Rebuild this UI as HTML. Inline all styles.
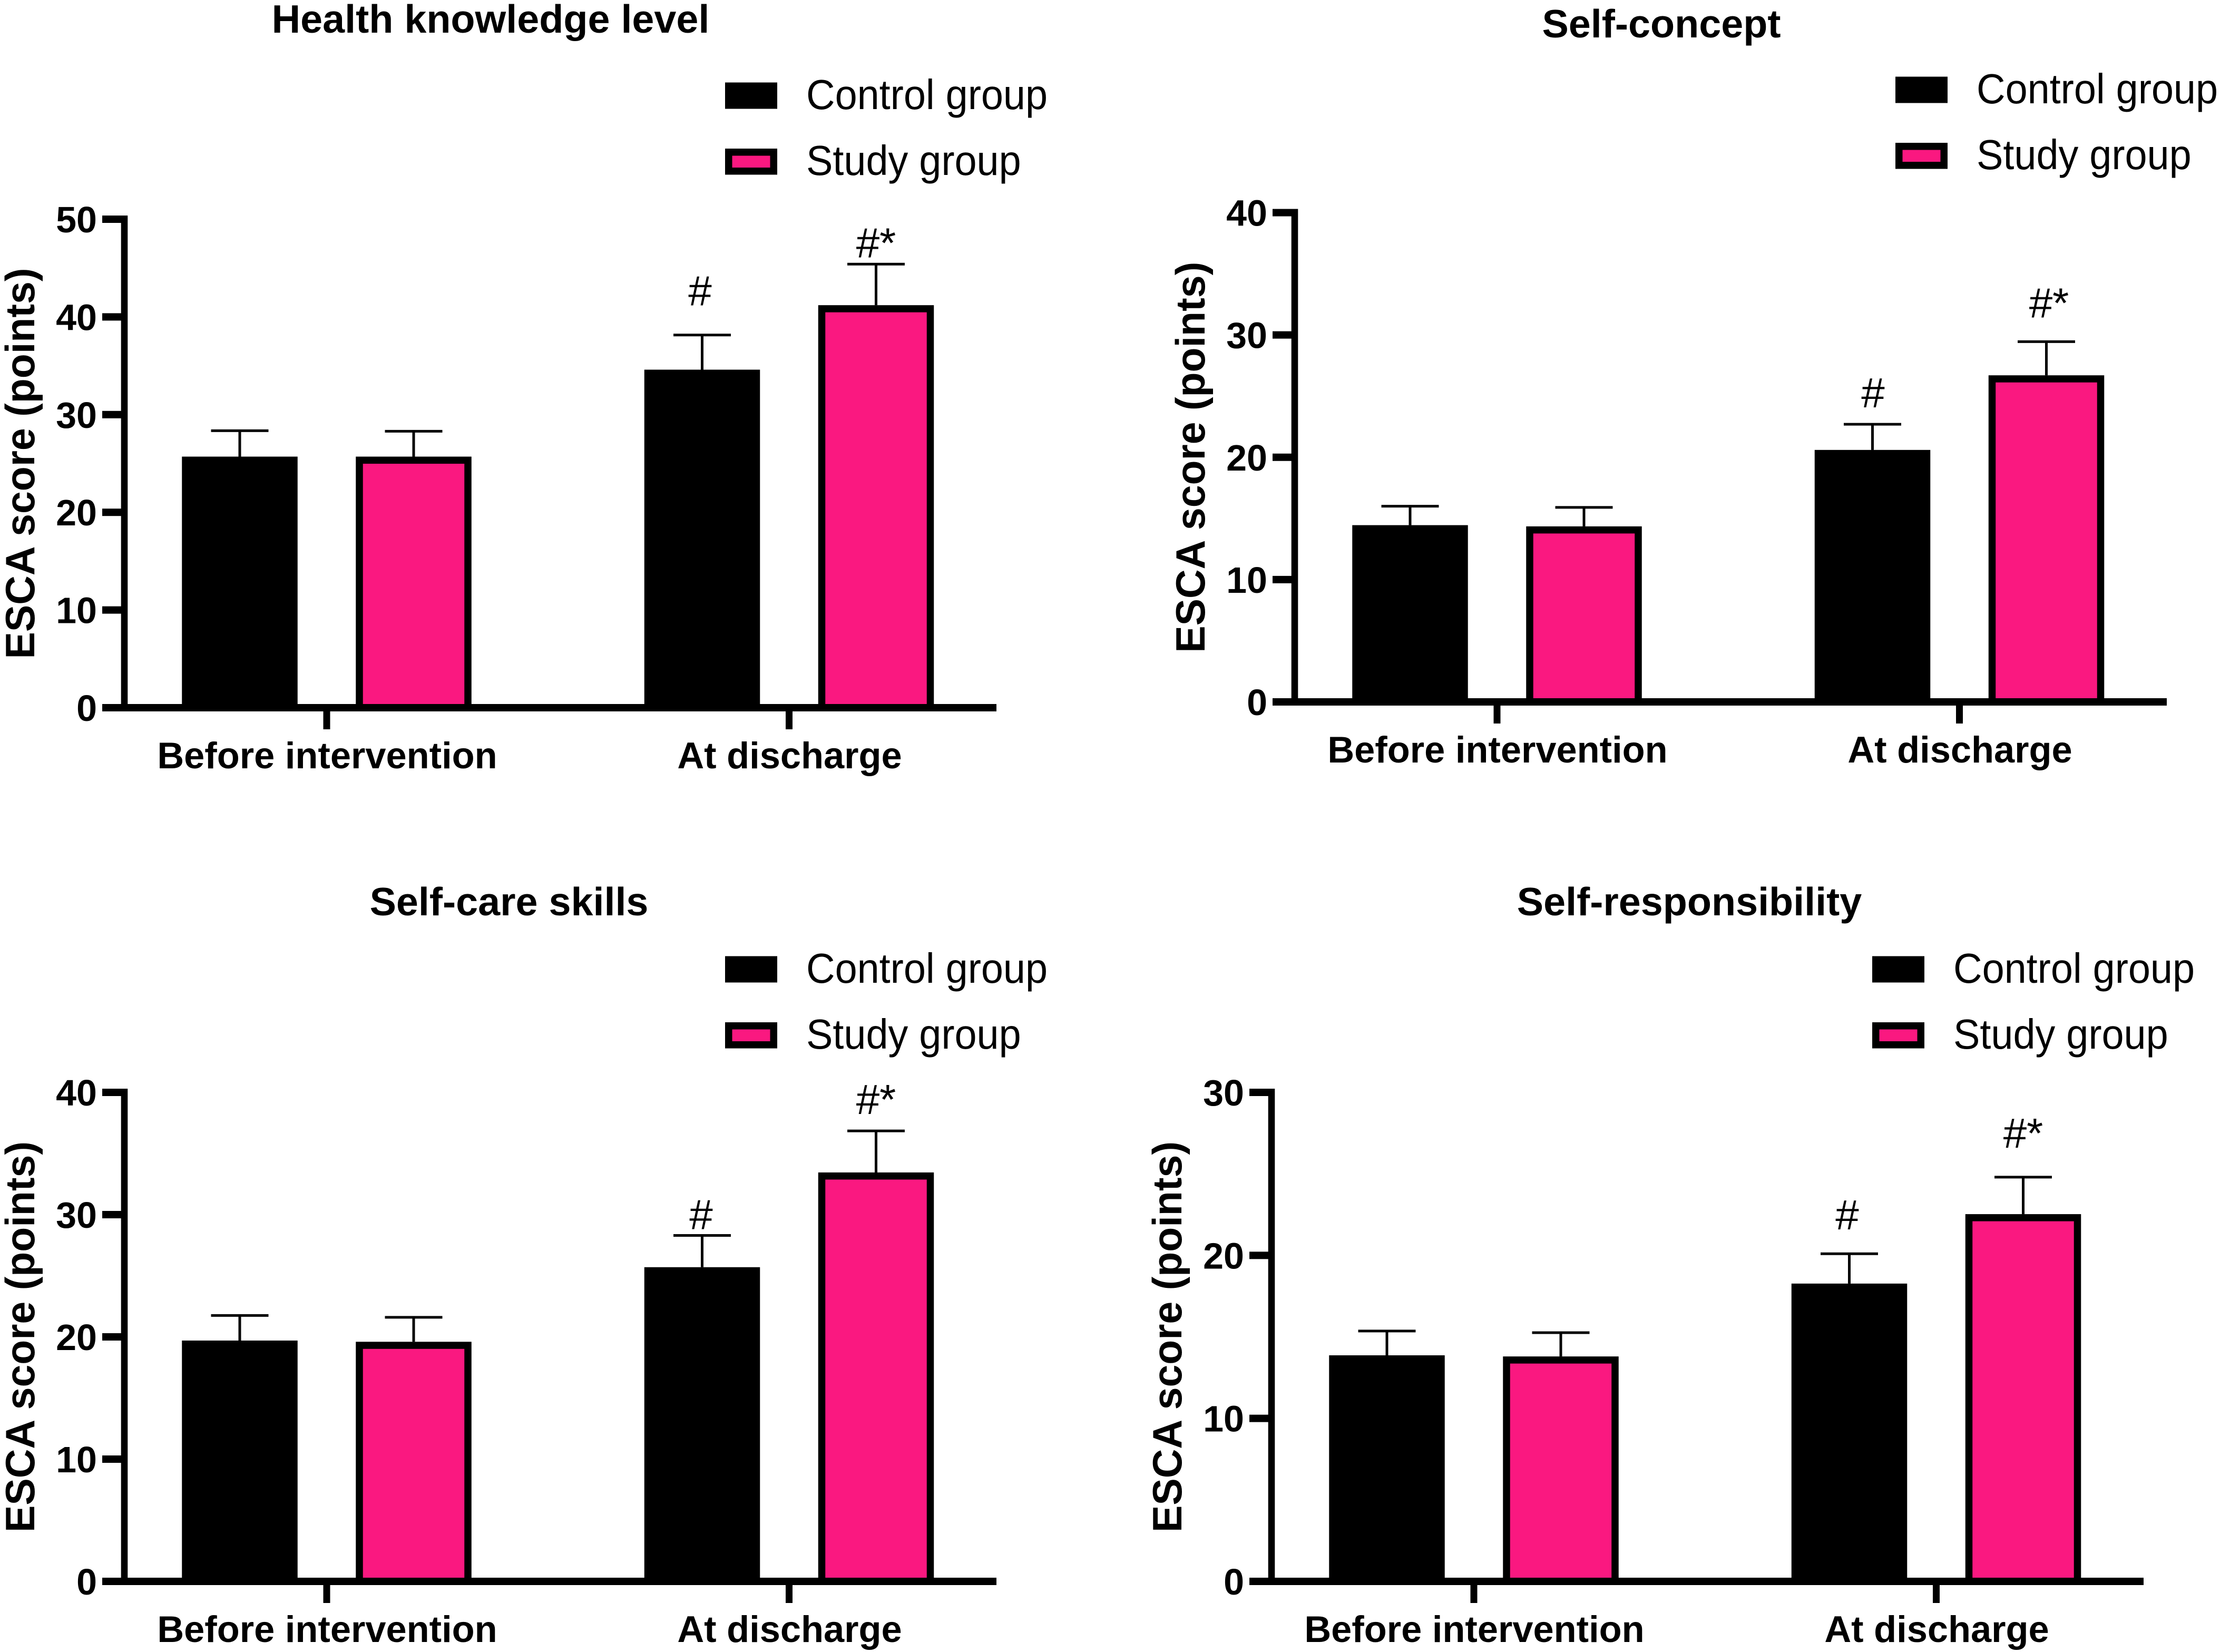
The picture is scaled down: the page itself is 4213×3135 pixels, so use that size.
<!DOCTYPE html>
<html lang="en">
<head>
<meta charset="utf-8">
<title>ESCA score charts</title>
<style>
html,body{margin:0;padding:0;background:#fff;width:4213px;height:3135px;overflow:hidden}
svg{display:block}
text{font-family:"Liberation Sans",sans-serif;fill:#000}
</style>
</head>
<body>
<svg id="figure" xmlns="http://www.w3.org/2000/svg" width="4213" height="3135" viewBox="0 0 4213 3135">
<rect x="0" y="0" width="4213" height="3135" fill="#ffffff"/>
</svg>
<script>
const categories = ["Before intervention", "At discharge"];
const seriesNames = ["Control group", "Study group"];
const yAxisTitle = "ESCA score (points)";
const markers = ["#", "#*"];

const healthTitle = "Health knowledge level";
const healthTicks = [0, 10, 20, 30, 40, 50];
const healthControl = [25.7, 34.6];
const healthStudy = [25.7, 41.2];
const healthControlUpper = [28.35, 38.15];
const healthStudyUpper = [28.3, 45.4];

const conceptTitle = "Self-concept";
const conceptTicks = [0, 10, 20, 30, 40];
const conceptControl = [14.45, 20.6];
const conceptStudy = [14.35, 26.7];
const conceptControlUpper = [16.0, 22.7];
const conceptStudyUpper = [15.9, 29.45];

const careTitle = "Self-care skills";
const careTicks = [0, 10, 20, 30, 40];
const careControl = [19.7, 25.7];
const careStudy = [19.6, 33.45];
const careControlUpper = [21.75, 28.3];
const careStudyUpper = [21.6, 36.85];

const responsibilityTitle = "Self-responsibility";
const responsibilityTicks = [0, 10, 20, 30];
const responsibilityControl = [13.87, 18.27];
const responsibilityStudy = [13.8, 22.53];
const responsibilityControlUpper = [15.36, 20.1];
const responsibilityStudyUpper = [15.26, 24.8];

const PINK = "#fa1880";
const svg = document.getElementById("figure");
const NS = "http://www.w3.org/2000/svg";

function make(tag, attrs, parent) {
  const node = document.createElementNS(NS, tag);
  for (const k in attrs) node.setAttribute(k, attrs[k]);
  parent.appendChild(node);
  return node;
}

function drawPanel(p) {
  const g = make("g", {}, svg);
  
  

  const maxTick = Math.max.apply(null, p.ticks);
  const y = v => p.y0 - (v / maxTick) * (p.y0 - p.yTop);
  const groupX = i => p.axisX + 384 + i * 877.5;
  const barW = 219.5, offset = 165, border = 13.5;

  const title = make("text", {x: p.titleX, y: p.titleY, "text-anchor": "middle", "font-size": 75.5, "font-weight": "bold"}, g);
  title.textContent = p.title;
  
  

  // legend
  const lx = p.axisX + 1140, ly = p.y0 - 1186.5;
  const sw1 = make("rect", {x: lx, y: ly, width: 99, height: 50, fill: "#000"}, g);
  
  
  const lt1 = make("text", {transform: "translate(" + (lx + 154) + "," + (ly + 50.5) + ") scale(1,1.06)", x: 0, y: 0, "font-size": 75.6}, g);
  lt1.textContent = seriesNames[0];
  
  
  const sw2 = make("rect", {x: lx + 6.75, y: ly + 125.5 + 6.75, width: 85.5, height: 36, fill: PINK, stroke: "#000", "stroke-width": 13.5}, g);
  
  
  const lt2 = make("text", {transform: "translate(" + (lx + 154) + "," + (ly + 175.5) + ") scale(1,1.06)", x: 0, y: 0, "font-size": 75.6}, g);
  lt2.textContent = seriesNames[1];
  
  

  // bars and error bars
  categories.forEach((cat, i) => {
    const cx = groupX(i);
    const xc = cx - offset, xs = cx + offset;

    const stemC = make("line", {x1: xc, x2: xc, y1: y(p.control[i]), y2: y(p.controlUpper[i]), stroke: "#000", "stroke-width": 5}, g);
    
    
    const capC = make("line", {x1: xc - 54.5, x2: xc + 54.5, y1: y(p.controlUpper[i]), y2: y(p.controlUpper[i]), stroke: "#000", "stroke-width": 5}, g);
    
    
    const stemS = make("line", {x1: xs, x2: xs, y1: y(p.study[i]), y2: y(p.studyUpper[i]), stroke: "#000", "stroke-width": 5}, g);
    
    
    const capS = make("line", {x1: xs - 54.5, x2: xs + 54.5, y1: y(p.studyUpper[i]), y2: y(p.studyUpper[i]), stroke: "#000", "stroke-width": 5}, g);
    
    

    const barC = make("rect", {x: xc - barW / 2, y: y(p.control[i]), width: barW, height: y(0) - y(p.control[i]), fill: "#000"}, g);
    
    
    const barS = make("rect", {
      x: xs - barW / 2 + border / 2, y: y(p.study[i]) + border / 2,
      width: barW - border, height: y(0) - y(p.study[i]) - border / 2,
      fill: PINK, stroke: "#000", "stroke-width": border
    }, g);
    
    
  });

  // significance markers on the second group
  const cx2 = groupX(1);
  const m1 = make("text", {x: cx2 - offset + p.dxControl, y: y(p.controlUpper[1]) - p.gapControl, "text-anchor": "middle", "font-size": 80}, g);
  m1.textContent = markers[0];
  
  
  const m2 = make("text", {x: cx2 + offset + p.dxStudy, y: y(p.studyUpper[1]) - p.gapStudy, "text-anchor": "middle", "font-size": 80}, g);
  m2.textContent = markers[1];
  
  

  // y axis
  const yLine = make("rect", {x: p.axisX - 6.3, y: y(maxTick) - 7, width: 12.6, height: y(0) - y(maxTick) + 14, fill: "#000"}, g);
  
  
  p.ticks.forEach(t => {
    const tick = make("rect", {x: p.axisX - 42, y: y(t) - 7, width: 42, height: 14, fill: "#000"}, g);
    
    
    const lab = make("text", {x: p.axisX - 52, y: y(t) + 25, "text-anchor": "end", "font-size": 70, "font-weight": "bold"}, g);
    lab.textContent = String(t);
    
    
  });

  // x axis
  const xLine = make("rect", {x: p.axisX - 42, y: y(0) - 7, width: 1697, height: 14, fill: "#000"}, g);
  
  
  categories.forEach((cat, i) => {
    const cx = groupX(i);
    const tick = make("rect", {x: cx - 6.5, y: y(0) + 7, width: 13, height: 34, fill: "#000"}, g);
    
    
    const lab = make("text", {x: cx + 1, y: y(0) + 115, "text-anchor": "middle", "font-size": 70.4, "font-weight": "bold"}, g);
    lab.textContent = cat;
    
    
  });

  // y axis title
  const yMid = (y(0) + y(maxTick)) / 2;
  const yt = make("text", {
    transform: "translate(" + (p.axisX - 171) + "," + yMid + ") rotate(-90)",
    x: 0, y: 0, "text-anchor": "middle", "font-size": 78, "font-weight": "bold",
    textLength: 742, lengthAdjust: "spacingAndGlyphs"
  }, g);
  yt.textContent = yAxisTitle;
  
  
}

drawPanel({title: healthTitle, ticks: healthTicks, control: healthControl, study: healthStudy,
  controlUpper: healthControlUpper, studyUpper: healthStudyUpper,
  axisX: 236, y0: 1343, yTop: 416, titleX: 931, titleY: 62, gapControl: 56, gapStudy: 13, dxControl: -4, dxStudy: 0});
drawPanel({title: conceptTitle, ticks: conceptTicks, control: conceptControl, study: conceptStudy,
  controlUpper: conceptControlUpper, studyUpper: conceptStudyUpper,
  axisX: 2457, y0: 1332, yTop: 403.5, titleX: 3153, titleY: 71, gapControl: 32, gapStudy: 46, dxControl: 1, dxStudy: 5});
drawPanel({title: careTitle, ticks: careTicks, control: careControl, study: careStudy,
  controlUpper: careControlUpper, studyUpper: careStudyUpper,
  axisX: 236, y0: 3001, yTop: 2073, titleX: 966, titleY: 1737, gapControl: 12, gapStudy: 32, dxControl: -2, dxStudy: 0});
drawPanel({title: responsibilityTitle, ticks: responsibilityTicks, control: responsibilityControl, study: responsibilityStudy,
  controlUpper: responsibilityControlUpper, studyUpper: responsibilityStudyUpper,
  axisX: 2413, y0: 3001, yTop: 2073, titleX: 3206, titleY: 1737, gapControl: 46, gapStudy: 56, dxControl: -4, dxStudy: 0});
</script>
</body>
</html>
